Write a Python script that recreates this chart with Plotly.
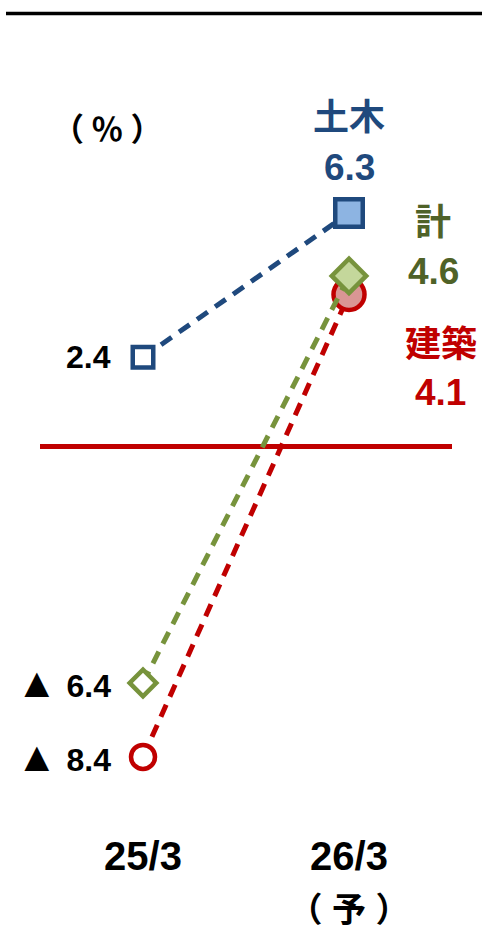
import plotly.graph_objects as go

categories = ["25/3", "26/3"]
tick_labels = ["25/3", '26/3<br><span style="font-size:34px">（ 予 ）</span>']
series_names = ["建築", "計", "土木"]
kenchiku = [-8.4, 4.1]
kei = [-6.4, 4.6]
doboku = [2.4, 6.3]
unit_label = "（ ％ ）"

FONT = "Liberation Sans, Noto Sans CJK JP, sans-serif"
CJK = "Noto Sans CJK JP, sans-serif"
x = [0, 1]

def fmt(v):
    if v < 0:
        return '<span style="font-size:42px">▲</span> ' + f"{abs(v):.1f}"
    return f"{v:.1f}"

W, H = 482, 927
L, R, T = 40, 30, 30
B = H - 827
pw, ph = W - L - R, H - T - B
PX_PER_UNIT = 37.0
ZERO_Y = 446.1

def px(sx):
    return (sx - L) / pw

def py(sy):
    return (T + ph - sy) / ph

fig = go.Figure()

styles = [
    (kenchiku, "#C00000", "#DA9694", "circle", [24, 31], 4.5),
    (kei, "#77933C", "#C4D79B", "diamond", [20.5, 26.5], 4.5),
    (doboku, "#1F497D", "#8DB4E2", "square", [20.5, 27.5], 4.5),
]
for name, (vals, lc, fc, sym, sizes, lw) in zip(series_names, styles):
    fig.add_trace(go.Scatter(
        x=x, y=vals, mode="lines+markers", name=name,
        line=dict(color=lc, width=5, dash="13px,9px"),
        marker=dict(symbol=sym, size=sizes, color=["white", fc], opacity=1,
                    line=dict(color=lc, width=lw)),
        showlegend=False, cliponaxis=False, hoverinfo="skip",
    ))

ann = []
for vals in (kenchiku, kei, doboku):
    ann.append(dict(x=0, y=vals[0], xref="x", yref="y", text=fmt(vals[0]),
                    showarrow=False, xanchor="right", yanchor="middle", xshift=-30,
                    font=dict(family=FONT, size=32, color="black", weight="bold")))

right_labels = [
    (doboku, series_names[2], "#1F497D", 0, 0, -96, -46),
    (kei, series_names[1], "#4F6228", 84, 84, -53, -4),
    (kenchiku, series_names[0], "#C00000", 92, 91, 50, 98),
]
for vals, nm, col, dxn, dxv, dy_name, dy_val in right_labels:
    for txt, dx, dy, fs in ((nm, dxn, dy_name, 36), (fmt(vals[1]), dxv, dy_val, 37)):
        ann.append(dict(x=1, y=vals[1], xref="x", yref="y", text=txt,
                        showarrow=False, xanchor="center", yanchor="middle",
                        xshift=dx, yshift=-dy,
                        font=dict(family=FONT, size=fs, color=col, weight="bold")))

ann.append(dict(x=px(107), y=py(127), xref="paper", yref="paper",
                text=unit_label, showarrow=False, xanchor="center", yanchor="middle",
                font=dict(family=CJK, size=32, color="black", weight="bold")))

y_top = (ZERO_Y - T) / PX_PER_UNIT
y_bot = -(T + ph - ZERO_Y) / PX_PER_UNIT

fig.update_layout(
    width=W, height=H,
    margin=dict(l=L, r=R, t=T, b=B, autoexpand=False),
    plot_bgcolor="white", paper_bgcolor="white",
    xaxis=dict(range=[-0.5, 1.5], tickvals=x, ticktext=tick_labels,
               showgrid=False, zeroline=False, showline=False, ticks="",
               automargin=False, ticklabelstandoff=2,
               tickfont=dict(family=FONT, size=40, color="black", weight="bold")),
    yaxis=dict(range=[y_bot, y_top], showgrid=False, showticklabels=False,
               zeroline=True, zerolinecolor="#C00000", zerolinewidth=5,
               showline=False, ticks="", automargin=False),
    annotations=ann,
    shapes=[dict(type="line", xref="paper", yref="paper",
                 x0=px(6), x1=px(482), y0=py(13.5), y1=py(13.5),
                 line=dict(color="black", width=3.5))],
)

fig.write_html("out.html", config={"displayModeBar": False},
               post_script="document.body.style.margin='0';document.body.style.overflow='hidden';")
